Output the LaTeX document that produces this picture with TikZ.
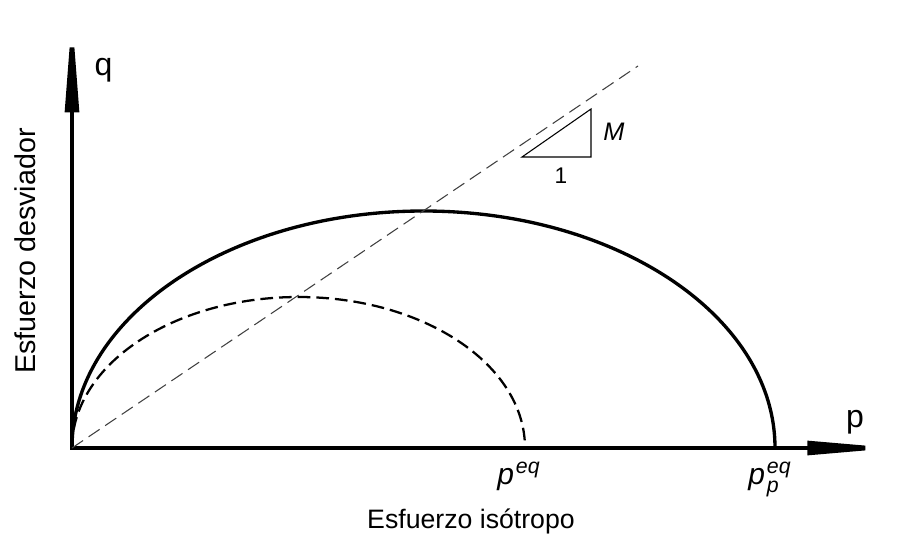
\documentclass[tikz,border=0pt]{standalone}
\usepackage{fontspec}
\setmainfont{Liberation Sans}
\usetikzlibrary{arrows.meta}

\begin{document}
\begin{tikzpicture}[x=0.75pt, y=-0.75pt,
    axis/.style={line width=3.6pt, line join=miter},
    yieldsurf/.style={line width=2.5pt},
    lbl/.style={inner sep=0pt, anchor=base}]

    \useasboundingbox (0,0) rectangle (899,535);

    % 坐标点
    \coordinate (O) at (72,448);
    \coordinate (qtip) at (72,11);
    \coordinate (ptip) at (898,448);
    \coordinate (cslend) at (638,66);

    % 坐标轴
    \draw[axis, {Triangle[length=76pt, width=10pt]}-{Triangle[length=68pt, width=10pt]}] (qtip) |- (ptip);

    % 屈服面
    \draw[yieldsurf] (O) arc[start angle=180, end angle=360, x radius=351.5, y radius=237];
    \draw[line width=1.7pt, dash pattern=on 9.5pt off 4.5pt] (O) arc[start angle=180, end angle=360, x radius=226.5, y radius=151];

    % 临界状态线
    \draw[line width=0.8pt, black!75, dash pattern=on 10pt off 5pt] (O) -- (cslend);

    % 斜率三角形
    \draw[line width=0.8pt] (522,157) -- (591,157) -- (591,109) -- cycle;

    % 文字
    \node[lbl, font=\fontsize{24}{24}\selectfont] (qlbl) at (103.5,75) {q};
    \node[lbl, font=\fontsize{24}{24}\selectfont] (plbl) at (855,427) {p};
    \node[lbl, font=\fontsize{19}{19}\selectfont\itshape] (mlbl) at (614,140) {M};
    \node[lbl, font=\fontsize{17}{17}\selectfont] (onelbl) at (561,183) {1};
    \node[lbl, anchor=base west, font=\fontsize{22.5}{22.5}\selectfont\itshape] (peq) at (497,484)
        {p\kern1.5pt\raisebox{8pt}{\fontsize{16}{16}\selectfont eq}};
    \node[lbl, anchor=base west, font=\fontsize{22.5}{22.5}\selectfont\itshape] (ppeq) at (748,484)
        {p\kern1.5pt\rlap{\raisebox{8pt}{\fontsize{16}{16}\selectfont eq}}\raisebox{-6.5pt}{\fontsize{16}{16}\selectfont p}};
    \node[lbl, font=\fontsize{20}{20}\selectfont] (xlbl) at (471,528) {Esfuerzo isótropo};
    \node[lbl, rotate=90, font=\fontsize{21.5}{21.5}\selectfont] (ylbl) at (35,251) {Esfuerzo desviador};

\end{tikzpicture}
\end{document}
